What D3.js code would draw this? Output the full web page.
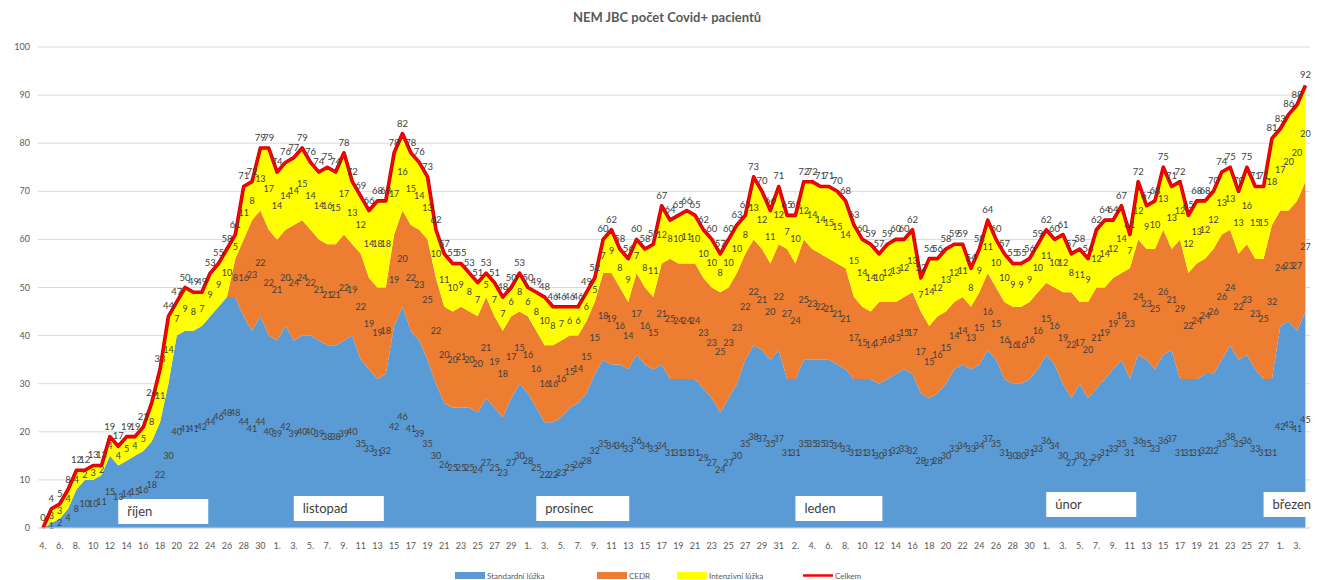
<!DOCTYPE html>
<html>
<head>
<meta charset="utf-8">
<script src="https://cdn.jsdelivr.net/npm/d3@7"></script>
<style>
  body { margin: 0; background: #fff; font-family: Lato, "Open Sans", sans-serif; }
  .lbl { font-size: 9px; fill: #404040; }
</style>
</head>
<body>
<div id="chart"></div>
<script>
// daily values, 4. 10. 2020 – 4. 3. 2021
const standard = [0,1,2,4,8,10,10,11,15,13,14,15,16,18,22,30,40,41,41,42,
  44,46,48,48,44,41,44,40,39,42,39,40,40,39,38,38,39,40,35,33,
  31,32,42,46,41,39,35,30,26,25,25,25,24,27,25,23,27,30,28,25,
  22,22,23,25,26,28,32,35,34,34,33,36,34,33,34,31,31,31,31,29,
  27,24,27,30,35,38,37,35,37,31,31,35,35,35,35,34,33,31,31,31,
  30,31,32,33,32,28,27,28,30,33,34,33,34,37,35,31,30,30,31,33,
  36,34,30,27,30,27,29,31,33,35,31,36,35,33,36,37,31,31,31,32,
  32,35,38,35,36,33,31,31,42,43,41,45];
const cedr = [0,0,0,0,0,0,0,0,0,0,0,0,0,0,0,0,0,0,0,0,
  0,0,0,8,16,23,22,22,21,20,24,24,22,21,21,21,22,19,22,19,
  19,18,19,20,22,23,25,22,20,20,21,20,20,21,19,18,17,15,16,16,
  16,16,16,15,14,15,15,18,19,16,14,17,16,15,21,25,24,24,24,23,
  23,25,23,23,22,22,21,20,22,27,24,25,23,22,21,21,21,17,15,14,
  17,16,15,15,17,17,15,16,15,14,14,13,15,16,15,16,16,16,16,16,
  15,16,19,22,17,20,21,19,19,18,23,24,23,25,26,21,29,22,24,24,
  26,26,24,22,23,23,25,32,24,23,27,27];
const intenzivni = [0,3,3,4,4,2,3,2,4,4,5,4,5,8,11,14,7,9,8,7,
  9,9,10,5,11,8,13,17,14,14,14,15,14,14,16,15,17,13,12,14,
  18,18,17,16,15,14,13,10,11,10,9,8,7,5,7,7,6,8,6,8,
  10,8,7,6,6,6,5,7,9,8,9,7,8,11,12,8,10,11,10,10,
  10,8,10,10,8,13,12,11,12,7,10,12,14,14,15,15,14,15,14,14,
  10,12,13,12,13,7,14,12,13,12,11,8,9,11,10,10,9,9,9,10,
  11,10,12,8,11,9,12,14,12,14,7,12,9,10,13,13,12,12,13,12,
  12,13,13,13,16,15,15,18,17,20,20,20];

const firstDay = new Date(2020, 9, 4);
const days = d3.timeDay.range(firstDay, new Date(2021, 2, 5));

const seriesNames = ["Standardní lůžka", "CEDR", "Intenzivní lůžka"];
const totalName = "Celkem";
const seriesColors = ["#5B9BD5", "#ED7D31", "#FFFF00"];
const totalColor = "#FF0000";

const monthNames = ["říjen", "listopad", "prosinec", "leden", "únor", "březen"];
const monthBoxFrom = [new Date(2020, 9, 13), new Date(2020, 10, 3), new Date(2020, 11, 2),
                      new Date(2021, 0, 2), new Date(2021, 1, 1), new Date(2021, 1, 27)];
const yTicks = [0, 10, 20, 30, 40, 50, 60, 70, 80, 90, 100];

const width = 1333, height = 580;

const rows = days.map((d, i) => ({
  date: d,
  s0: standard[i],
  s1: cedr[i],
  s2: intenzivni[i]
}));
rows.forEach(r => r.total = r.s0 + r.s1 + r.s2);

const x = d3.scaleTime()
  .domain([firstDay, days[days.length - 1]])
  .range([43, 1305.4]);
const y = d3.scaleLinear().domain([0, 100]).range([528, 47]);

const svg = d3.select("#chart").append("svg")
  .attr("width", width).attr("height", height);

svg.append("text")
  .attr("x", 667).attr("y", 22)
  .attr("text-anchor", "middle")
  .style("font-size", "13px").style("font-weight", "bold")
  .style("fill", "#595959")
  .text("NEM JBC počet Covid+ pacientů");

// grid + y labels
svg.append("g").selectAll("line").data(yTicks).enter().append("line")
  .attr("x1", 38).attr("x2", 1310)
  .attr("y1", d => y(d)).attr("y2", d => y(d))
  .attr("stroke", "#D9D9D9").attr("stroke-width", 1);

svg.append("g").selectAll("text").data(yTicks).enter().append("text")
  .attr("x", 30).attr("y", d => y(d) + 3)
  .attr("text-anchor", "end")
  .style("font-size", "9px").style("fill", "#595959")
  .text(d => d);

// stacked areas
const stack = d3.stack().keys(["s0", "s1", "s2"]);
const layers = stack(rows);

const area = d3.area()
  .x(d => x(d.data.date))
  .y0(d => y(d[0]))
  .y1(d => y(d[1]));

svg.append("g").selectAll("path").data(layers).enter().append("path")
  .attr("d", area)
  .attr("fill", (d, i) => seriesColors[i]);

// month boxes
const boxY = [499, 496, 496, 496, 492, 492];
const boxW = [90, 90, 93, 87, 90, 70];
const mg = svg.append("g");
monthNames.forEach((m, i) => {
  const bx = x(monthBoxFrom[i]);
  mg.append("rect")
    .attr("x", bx).attr("y", boxY[i])
    .attr("width", boxW[i]).attr("height", 25)
    .attr("fill", "#fff");
  mg.append("text")
    .attr("x", bx + 9).attr("y", boxY[i] + 17)
    .style("font-size", "13px").style("fill", "#404040")
    .text(m);
});

// total line
const line = d3.line()
  .x(d => x(d.date))
  .y(d => y(d.total));

svg.append("path")
  .datum(rows)
  .attr("d", line)
  .attr("fill", "none")
  .attr("stroke", "#C00000")
  .attr("stroke-width", 3.6)
  .attr("stroke-linejoin", "round");
svg.append("path")
  .datum(rows)
  .attr("d", line)
  .attr("fill", "none")
  .attr("stroke", totalColor)
  .attr("stroke-width", 2.2)
  .attr("stroke-linejoin", "round");

// data labels
const lg = svg.append("g").attr("class", "lbl").attr("text-anchor", "middle");
layers.forEach(layer => {
  lg.append("g").selectAll("text")
    .data(layer.filter(d => d[1] - d[0] > 0))
    .enter().append("text")
    .attr("x", d => x(d.data.date))
    .attr("y", d => y((d[0] + d[1]) / 2) + 3)
    .text(d => d[1] - d[0]);
});
lg.append("g").selectAll("text").data(rows).enter().append("text")
  .attr("x", d => x(d.date))
  .attr("y", d => y(d.total) - 7)
  .style("font-size", "9.5px")
  .style("fill", "#404040")
  .text(d => d.total);

// x axis
svg.append("line")
  .attr("x1", 38).attr("x2", 1310)
  .attr("y1", y(0)).attr("y2", y(0))
  .attr("stroke", "#D9D9D9");

const xTickDays = days.filter((d, i) => i % 2 === 0);
svg.append("g").selectAll("text").data(xTickDays).enter().append("text")
  .attr("x", d => x(d))
  .attr("y", 549)
  .attr("text-anchor", "middle")
  .style("font-size", "9px").style("fill", "#595959")
  .text(d => d.getDate() < 10 ? d.getDate() + "." : d.getDate());

// legend
const legendX = [455, 597, 677, 803];
const legend = svg.append("g");
seriesNames.concat([totalName]).forEach((name, i) => {
  if (i < 3) {
    legend.append("rect")
      .attr("x", legendX[i]).attr("y", 572)
      .attr("width", 30).attr("height", 7)
      .attr("fill", seriesColors[i]);
  } else {
    legend.append("line")
      .attr("x1", legendX[i]).attr("x2", legendX[i] + 30)
      .attr("y1", 575.5).attr("y2", 575.5)
      .attr("stroke", totalColor).attr("stroke-width", 2.5);
  }
  legend.append("text")
    .attr("x", legendX[i] + 32).attr("y", 578.5)
    .style("font-size", "8px").style("fill", "#595959")
    .text(name);
});
</script>
</body>
</html>
